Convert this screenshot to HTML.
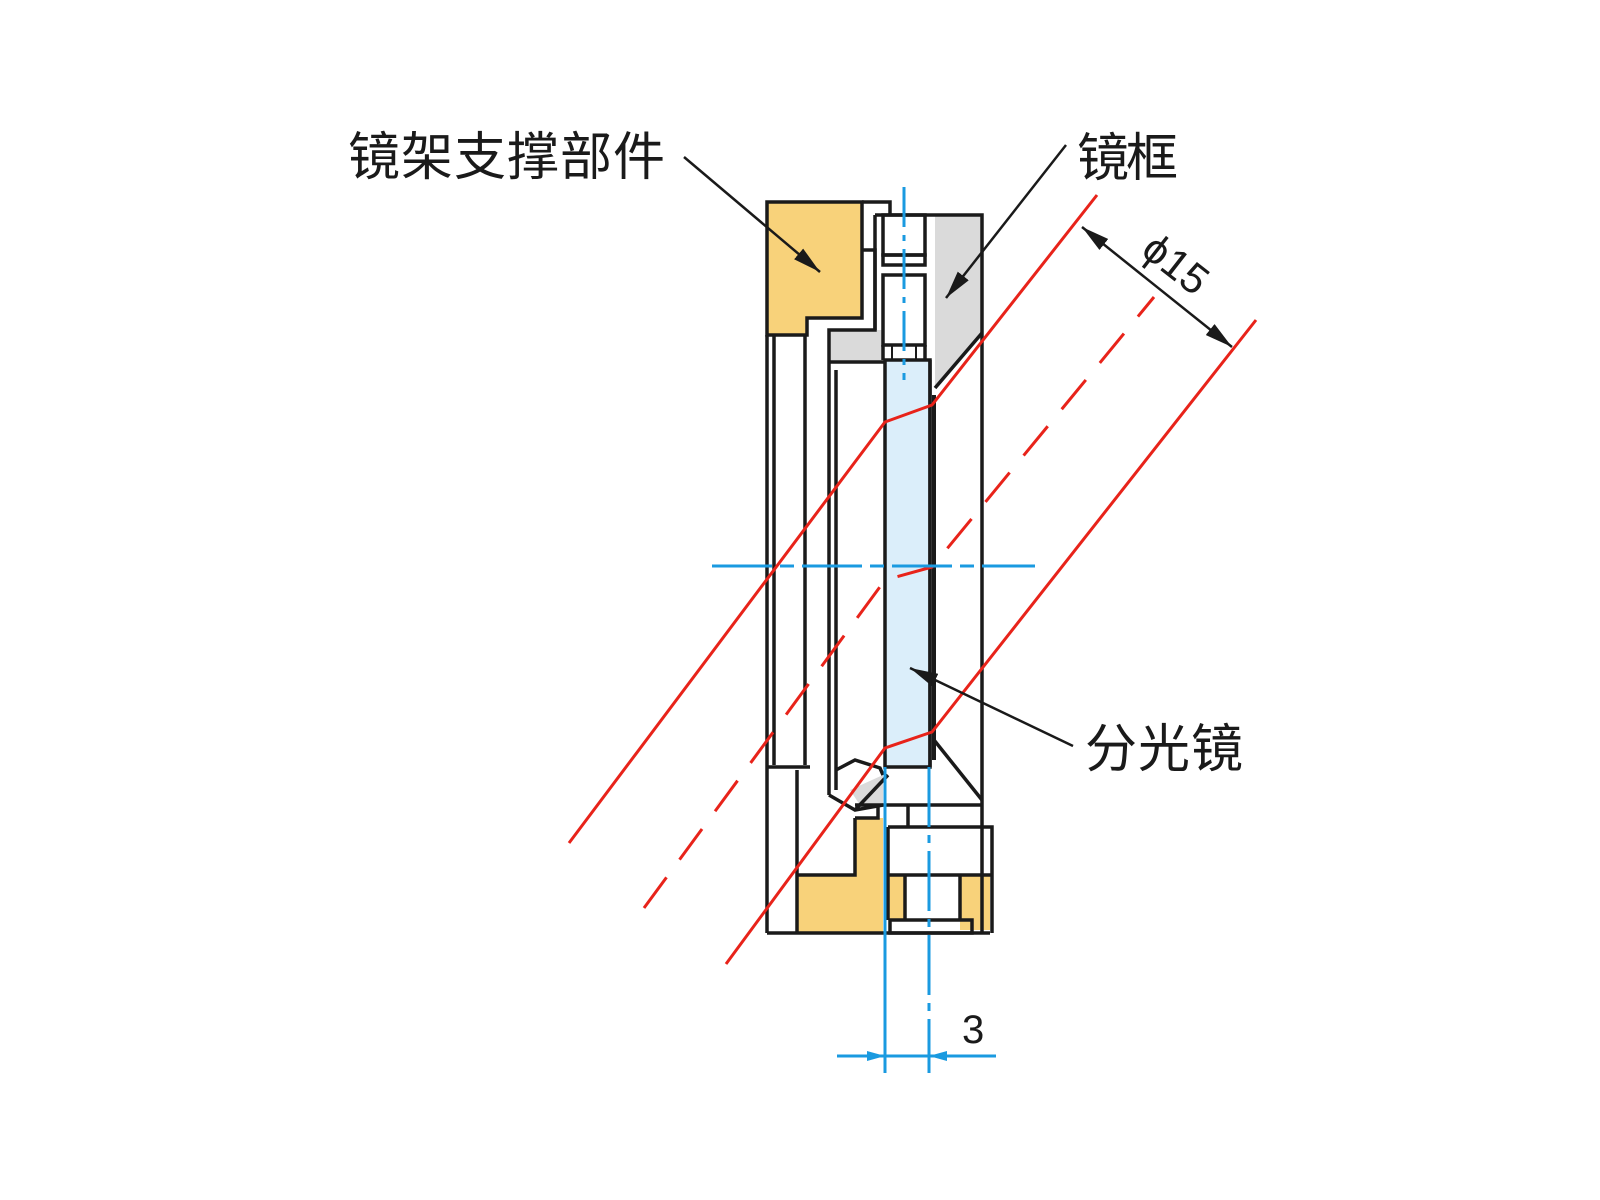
<!DOCTYPE html>
<html><head><meta charset="utf-8"><style>
html,body{margin:0;padding:0;background:#fff;}
svg{display:block;}
text{font-family:"Liberation Sans","Noto Sans CJK SC",sans-serif;}
</style></head><body>
<svg width="1600" height="1200" viewBox="0 0 1600 1200" xmlns="http://www.w3.org/2000/svg">
<defs>
<marker id="ah" viewBox="0 0 28 14" refX="28" refY="7" markerWidth="28" markerHeight="14" markerUnits="userSpaceOnUse" orient="auto"><path d="M0,0 L28,7 L0,14 Z" fill="#1a1a1a"/></marker>
<marker id="as" viewBox="0 0 28 14" refX="0" refY="7" markerWidth="28" markerHeight="14" markerUnits="userSpaceOnUse" orient="auto"><path d="M28,0 L0,7 L28,14 Z" fill="#1a1a1a"/></marker>
<marker id="bh" viewBox="0 0 18 10" refX="18" refY="5" markerWidth="18" markerHeight="10" markerUnits="userSpaceOnUse" orient="auto"><path d="M0,0 L18,5 L0,10 Z" fill="#1a9ae0"/></marker>
</defs>

<path d="M767,202 H862 V318 H807 V335 H767 Z" fill="#f8d27a"/>
<path d="M927,215 H982 V333 L935,388 V215 Z" fill="#dadada"/>
<path d="M829,330 H883 V362 H829 Z" fill="#dadada"/>
<path d="M855,818 H883 V875 H855 Z" fill="#f8d27a"/>
<path d="M797,875 H883 V933 H797 Z" fill="#f8d27a"/>
<path d="M960,875 H990 V930 H960 Z" fill="#f8d27a"/>
<path d="M888,875 H905 V920 H888 Z" fill="#f8d27a"/>
<rect x="885" y="360" width="45" height="407" fill="#dbeefa"/>
<path d="M850,790 L883,775 V805 L860,805 Z" fill="#dadada"/>

<g fill="none" stroke="#1a1a1a" stroke-width="3.5" stroke-linejoin="miter">
<path d="M767,202 H862 V318 H807 V335 H767 Z"/>
<line x1="767" y1="335" x2="767" y2="933"/>
<line x1="774" y1="335" x2="774" y2="765"/>
<line x1="805" y1="335" x2="805" y2="765"/>
<line x1="767" y1="767" x2="810" y2="767"/>
<line x1="797" y1="770" x2="797" y2="933"/>
<line x1="767" y1="933" x2="990" y2="933"/>
<path d="M862,202 H890 V215"/>
<path d="M862,250 H875 V330 H829 V362"/>
<line x1="829" y1="362" x2="829" y2="795"/>
<line x1="836" y1="370" x2="836" y2="790"/>
<line x1="829" y1="362" x2="885" y2="362"/>
<path d="M836,770 L855,760 L880,768 L883,775"/>
<path d="M829,795 L855,810 L883,805"/>
<path d="M855,810 L888,775"/>
<path d="M875,215 H982 V933"/>
<line x1="875" y1="215" x2="875" y2="330"/>
<path d="M982,333 L935,388"/>
<line x1="930" y1="360" x2="930" y2="767"/>
<line x1="934" y1="395" x2="934" y2="760" stroke-width="4"/>
<path d="M934,740 L982,800"/>
<rect x="883" y="215" width="42" height="40"/>
<rect x="883" y="255" width="42" height="10"/>
<rect x="883" y="275" width="42" height="70"/>
<line x1="883" y1="345" x2="883" y2="360"/>
<line x1="925" y1="345" x2="925" y2="360"/>
<line x1="892" y1="345" x2="892" y2="360" stroke-width="2"/>
<line x1="916" y1="345" x2="916" y2="360" stroke-width="2"/>
<rect x="885" y="360" width="45" height="407"/>
<path d="M855,805 H982"/>
<path d="M855,818 V875 H797"/>
<path d="M878,805 V818 H855"/>
<path d="M888,827 H992 V933"/>
<line x1="888" y1="827" x2="888" y2="920"/>
<line x1="888" y1="875" x2="992" y2="875"/>
<line x1="905" y1="875" x2="905" y2="920"/>
<line x1="960" y1="875" x2="960" y2="920"/>
<rect x="890" y="920" width="82" height="13"/>
<line x1="908" y1="805" x2="908" y2="827"/>
</g>

<g fill="none" stroke="#e8231a" stroke-width="3">
<polyline points="569,843 885,422 932,405 1097,195"/>
<polyline points="726,964 885,748 932,732 1256,320"/>
<polyline points="644,908 885,580 932,567 1154,297" stroke-dasharray="38,22"/>
</g>

<g fill="none" stroke="#1a9ae0" stroke-width="3">
<line x1="904" y1="187" x2="904" y2="380" stroke-dasharray="40,8,6,8"/>
<line x1="712" y1="566" x2="1035" y2="566" stroke-dasharray="60,8,14,8"/>
<line x1="885" y1="767" x2="885" y2="1073"/>
<line x1="929" y1="767" x2="929" y2="1073" stroke-dasharray="60,8,8,8"/>
<line x1="837" y1="1056" x2="885" y2="1056" marker-end="url(#bh)"/>
<line x1="996" y1="1056" x2="929" y2="1056" marker-end="url(#bh)"/>
<line x1="885" y1="1056" x2="929" y2="1056"/>
</g>
<text x="962" y="1043" font-size="40" fill="#1a1a1a">3</text>

<g stroke="#1a1a1a" stroke-width="2.5" fill="none">
<line x1="684" y1="157" x2="820" y2="272" marker-end="url(#ah)"/>
<line x1="1066" y1="145" x2="946" y2="298" marker-end="url(#ah)"/>
<line x1="1073" y1="746" x2="910" y2="668" marker-end="url(#ah)"/>
<line x1="1082" y1="227" x2="1232" y2="347" marker-start="url(#as)" marker-end="url(#ah)"/>
</g>
<text transform="translate(1176,264) rotate(38)" font-size="42" fill="#1a1a1a" text-anchor="middle" dominant-baseline="central">ϕ15</text>

<g font-size="52" fill="#1a1a1a" style="font-family:'Liberation Sans','Noto Sans CJK SC',sans-serif">
<text x="348" y="175" textLength="317">镜架支撑部件</text>
<text x="1077" y="176" textLength="101">镜框</text>
<text x="1085" y="767" textLength="158">分光镜</text>
</g>
</svg>
</body></html>
